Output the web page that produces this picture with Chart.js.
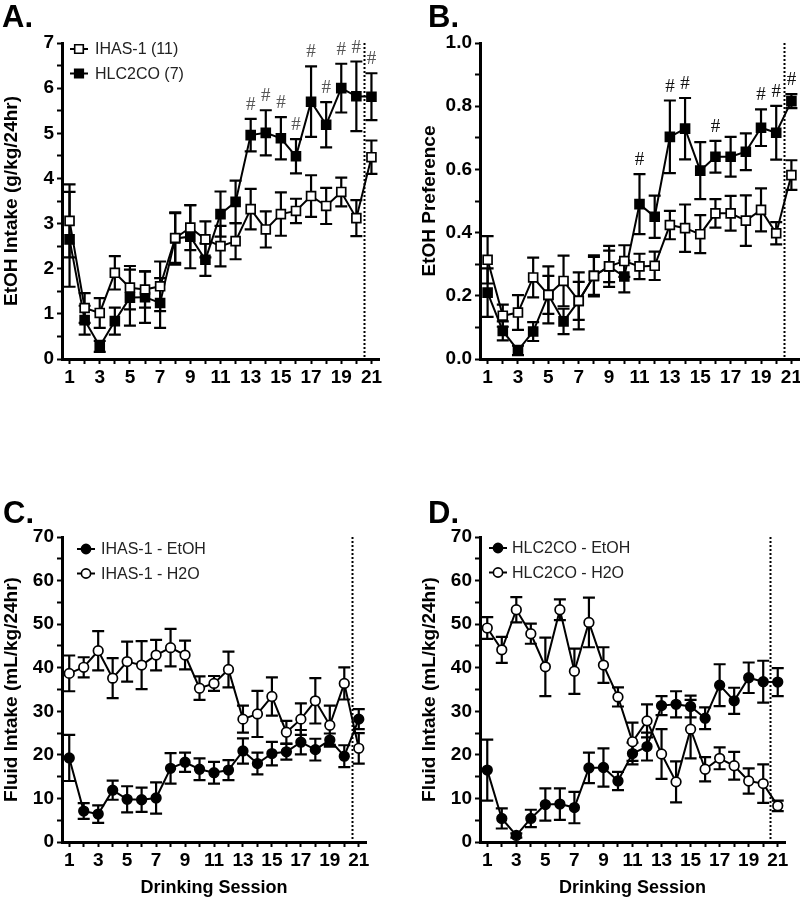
<!DOCTYPE html>
<html>
<head>
<meta charset="utf-8">
<script src="https://cdn.jsdelivr.net/npm/chart.js@4.4.0/dist/chart.umd.min.js"></script>
<style>
  html, body { margin: 0; padding: 0; background: #fff; width: 800px; height: 899px; overflow: hidden; }
  canvas { position: absolute; }
</style>
</head>
<body>
<canvas id="panelA" width="400" height="400" style="left:0;top:0"></canvas>
<canvas id="panelB" width="392" height="400" style="left:418px;top:0"></canvas>
<canvas id="panelC" width="400" height="479" style="left:0;top:420px"></canvas>
<canvas id="panelD" width="382" height="479" style="left:418px;top:420px"></canvas>
<script>
// --- Data (mean and SEM per drinking session) ---
const sessions = [1, 2, 3, 4, 5, 6, 7, 8, 9, 10, 11, 12, 13, 14, 15, 16, 17, 18, 19, 20, 21];

// A. EtOH intake (g/kg/24hr)
const ihasIntake    = [3.06, 1.13, 1.02, 1.91, 1.58, 1.54, 1.61, 2.68, 2.91, 2.65, 2.50, 2.61, 3.32, 2.87, 3.21, 3.28, 3.61, 3.39, 3.70, 3.12, 4.47];
const ihasIntakeSem = [0.81, 0.33, 0.33, 0.37, 0.48, 0.40, 0.55, 0.55, 0.50, 0.40, 0.45, 0.40, 0.45, 0.40, 0.48, 0.27, 0.46, 0.40, 0.32, 0.40, 0.37];
const hlcIntake     = [2.65, 0.86, 0.28, 0.84, 1.36, 1.37, 1.24, 2.67, 2.71, 2.20, 3.21, 3.48, 4.96, 5.01, 4.89, 4.49, 5.70, 5.19, 6.00, 5.82, 5.81];
const hlcIntakeSem  = [1.05, 0.32, 0.12, 0.30, 0.62, 0.57, 0.55, 0.58, 0.70, 0.36, 0.50, 0.47, 0.36, 0.50, 0.47, 0.38, 0.78, 0.50, 0.54, 0.77, 0.52];
const sigA = [13, 14, 15, 16, 17, 18, 19, 20, 21];

// B. EtOH preference
const ihasPref    = [0.314, 0.137, 0.147, 0.258, 0.203, 0.247, 0.184, 0.263, 0.293, 0.310, 0.293, 0.295, 0.424, 0.414, 0.395, 0.461, 0.461, 0.438, 0.472, 0.398, 0.582];
const ihasPrefSem = [0.075, 0.035, 0.055, 0.063, 0.060, 0.080, 0.060, 0.060, 0.050, 0.050, 0.040, 0.045, 0.045, 0.075, 0.060, 0.045, 0.055, 0.080, 0.068, 0.035, 0.047];
const hlcPref     = [0.210, 0.089, 0.027, 0.087, 0.203, 0.119, 0.184, 0.263, 0.293, 0.261, 0.490, 0.450, 0.703, 0.729, 0.596, 0.640, 0.640, 0.656, 0.732, 0.716, 0.816];
const hlcPrefSem  = [0.077, 0.030, 0.015, 0.030, 0.090, 0.040, 0.090, 0.065, 0.065, 0.050, 0.095, 0.067, 0.115, 0.097, 0.090, 0.050, 0.063, 0.058, 0.058, 0.085, 0.022];
const sigB = [11, 13, 14, 16, 19, 20, 21];

// C. IHAS-1 fluid intake (mL/kg/24hr)
const ihasEtoh    = [19.3, 7.1, 6.4, 11.9, 9.8, 9.7, 10.1, 16.9, 18.3, 16.7, 15.9, 16.5, 20.9, 18.0, 20.3, 20.7, 22.9, 21.2, 23.4, 19.7, 28.2];
const ihasEtohSem = [5.3, 1.8, 2.0, 2.2, 3.0, 2.8, 3.6, 3.5, 2.2, 2.5, 2.5, 2.3, 2.9, 2.5, 2.7, 1.8, 2.8, 2.5, 1.5, 2.5, 2.3];
const ihasH2o     = [38.7, 40.1, 43.9, 37.6, 41.4, 40.6, 42.9, 44.6, 42.9, 35.3, 36.4, 39.6, 28.2, 29.4, 33.4, 25.2, 28.2, 32.4, 26.8, 36.4, 21.5];
const ihasH2oSem  = [4.1, 2.3, 4.5, 4.6, 4.6, 5.5, 3.5, 4.3, 3.3, 2.7, 1.7, 4.1, 3.1, 5.3, 4.4, 2.6, 3.6, 5.2, 4.5, 3.7, 3.5];

// D. HLC2CO fluid intake (mL/kg/24hr)
const hlcEtoh    = [16.5, 5.4, 1.5, 5.4, 8.6, 8.7, 7.9, 17.0, 17.1, 14.0, 20.3, 21.9, 31.3, 31.6, 31.1, 28.4, 36.0, 32.4, 37.7, 36.8, 36.7];
const hlcEtohSem = [7.0, 2.3, 0.5, 2.0, 3.7, 3.6, 3.6, 3.5, 4.4, 2.1, 2.5, 3.2, 2.2, 3.0, 2.5, 2.5, 4.8, 3.0, 3.5, 4.8, 3.2];
const hlcH2o     = [49.1, 44.1, 53.3, 47.8, 40.2, 53.3, 39.2, 50.4, 40.6, 33.3, 23.0, 27.8, 20.2, 13.8, 25.9, 16.7, 19.2, 17.5, 14.0, 13.4, 8.3];
const hlcH2oSem  = [2.5, 3.0, 2.9, 2.3, 6.7, 2.4, 5.2, 5.7, 4.1, 2.2, 4.4, 3.8, 5.7, 4.7, 6.7, 2.8, 2.5, 3.2, 2.9, 4.4, 1.2];

const breakAt = 20.5; // dotted line before session 21

const SANS = '"Liberation Sans", Arial, sans-serif';
const tickFont = { family: SANS, size: 19, weight: 'bold' };

function drawMarker(ctx, shape, filled, x, y) {
  ctx.save();
  ctx.lineWidth = 1.6;
  ctx.strokeStyle = '#000';
  ctx.fillStyle = filled ? '#000' : '#fff';
  ctx.beginPath();
  if (shape === 'rect') ctx.rect(x - 4.3, y - 4.3, 8.6, 8.6);
  else ctx.arc(x, y, 4.6, 0, Math.PI * 2);
  ctx.fill(); ctx.stroke();
  ctx.restore();
}

function makePanel(id, cfg) {
  const datasets = cfg.series.map(s => ({
    label: s.label,
    data: sessions.map((x, i) => ({ x, y: s.mean[i] })),
    sem: s.sem,
    shape: s.shape, filled: s.filled,
    borderColor: '#000', borderWidth: 2, tension: 0, fill: false,
    pointStyle: s.shape,
    pointRadius: s.shape === 'rect' ? 6.3 : 4.8,
    pointBorderWidth: 1.7,
    pointBorderColor: '#000',
    pointBackgroundColor: s.filled ? '#000' : '#fff'
  }));

  const deco = {
    id: 'deco',
    beforeDatasetsDraw(chart) {
      const { ctx, chartArea: a, scales: { x, y } } = chart;
      ctx.save();
      // dotted divider
      const dx = Math.round(x.getPixelForValue(breakAt)) + 0.5;
      ctx.strokeStyle = '#000'; ctx.lineWidth = 2; ctx.setLineDash([2, 2]);
      ctx.beginPath(); ctx.moveTo(dx, a.top); ctx.lineTo(dx, a.bottom); ctx.stroke();
      ctx.setLineDash([]);
      // error bars (mean ± SEM)
      ctx.strokeStyle = '#000'; ctx.lineWidth = 2.2;
      chart.data.datasets.forEach(ds => {
        ds.data.forEach((p, i) => {
          const px = x.getPixelForValue(p.x);
          const t = y.getPixelForValue(p.y + ds.sem[i]);
          const b = y.getPixelForValue(p.y - ds.sem[i]);
          ctx.beginPath();
          ctx.moveTo(px, t); ctx.lineTo(px, b);
          ctx.moveTo(px - 6, t); ctx.lineTo(px + 6, t);
          ctx.moveTo(px - 6, b); ctx.lineTo(px + 6, b);
          ctx.stroke();
        });
      });
      ctx.restore();
    },
    afterDraw(chart) {
      const { ctx, chartArea: a, scales: { x, y } } = chart;
      ctx.save();
      // significance marks
      if (cfg.sig) {
        const ds = chart.data.datasets[cfg.sigSeries];
        ctx.font = '19px "Liberation Serif", "Times New Roman", serif';
        ctx.fillStyle = cfg.sigColor;
        ctx.textAlign = 'center'; ctx.textBaseline = 'alphabetic';
        cfg.sig.forEach(s => {
          const i = sessions.indexOf(s);
          const px = x.getPixelForValue(s);
          const py = y.getPixelForValue(ds.data[i].y + ds.sem[i]) - 9;
          ctx.fillText('#', px, py);
        });
      }
      // legend
      if (cfg.legend) {
        ctx.font = '16px ' + SANS;
        ctx.textAlign = 'left'; ctx.textBaseline = 'middle';
        cfg.legend.order.forEach((di, k) => {
          const ds = chart.data.datasets[di];
          const lx = a.left + cfg.legend.dx;
          const ly = a.top + cfg.legend.dy + k * 24.5;
          ctx.strokeStyle = '#000'; ctx.lineWidth = 2;
          ctx.beginPath(); ctx.moveTo(lx - 9, ly); ctx.lineTo(lx + 9, ly); ctx.stroke();
          drawMarker(ctx, ds.shape, ds.filled, lx, ly);
          ctx.fillStyle = '#222';
          ctx.fillText(ds.label, lx + cfg.legend.tx, ly + 1);
        });
      }
      // panel letter
      ctx.font = 'bold 31px ' + SANS;
      ctx.fillStyle = '#000'; ctx.textAlign = 'left'; ctx.textBaseline = 'alphabetic';
      ctx.fillText(cfg.letter, cfg.letterX, cfg.letterY);
      ctx.restore();
    }
  };

  return new Chart(document.getElementById(id), {
    type: 'line',
    data: { datasets },
    options: {
      responsive: false,
      animation: false,
      events: [],
      layout: { padding: { top: cfg.padTop, right: cfg.padRight, left: 0, bottom: 0 } },
      plugins: { legend: { display: false }, tooltip: { enabled: false } },
      scales: {
        x: {
          type: 'linear', min: 0.5, max: 21.5,
          afterBuildTicks: s => { s.ticks = sessions.map(v => ({ value: v })); },
          afterFit: s => { s.height = cfg.xHeight; },
          ticks: { autoSkip: false, maxRotation: 0, padding: 2, color: '#000', font: tickFont,
                   callback: v => (v % 2 ? v : '') },
          grid: { drawOnChartArea: false, tickLength: 5, tickWidth: 2, color: '#000' },
          border: { width: 3, color: '#000' },
          title: { display: !!cfg.xTitle, text: cfg.xTitle || '', color: '#000',
                   font: { family: SANS, size: 18, weight: 'bold' }, padding: { top: 0, bottom: 0 } }
        },
        y: {
          min: cfg.yMin, max: cfg.yMax,
          afterFit: s => { s.width = 62; },
          ticks: { stepSize: cfg.yStep, autoSkip: false, padding: 3, color: '#000', font: tickFont,
                   callback: cfg.yLabel },
          grid: { drawOnChartArea: false, tickLength: 5, tickWidth: 2, color: '#000' },
          border: { width: 3, color: '#000' },
          title: { display: true, text: cfg.yTitle, color: '#000',
                   font: { family: SANS, size: 19, weight: 'bold' }, padding: { top: 0, bottom: 0 } }
        }
      }
    },
    plugins: [deco]
  });
}

const intLabel = v => (Math.abs(v - Math.round(v)) < 1e-6 ? Math.round(v) : '');
const prefLabel = v => (Math.round(v * 10) % 2 === 0 ? v.toFixed(1) : '');
const tenLabel = v => (Math.round(v) % 10 === 0 ? Math.round(v) : '');

makePanel('panelA', {
  letter: 'A.', letterX: 2, letterY: 27,
  padTop: 43, padRight: 21, xHeight: 41,
  yMin: 0, yMax: 7, yStep: 0.5, yLabel: intLabel, yTitle: 'EtOH Intake (g/kg/24hr)',
  series: [
    { label: 'IHAS-1 (11)', mean: ihasIntake, sem: ihasIntakeSem, shape: 'rect', filled: false },
    { label: 'HLC2CO (7)', mean: hlcIntake, sem: hlcIntakeSem, shape: 'rect', filled: true }
  ],
  sig: sigA, sigSeries: 1, sigColor: '#555',
  legend: { order: [0, 1], dx: 17, dy: 6, tx: 16 }
});

makePanel('panelB', {
  letter: 'B.', letterX: 10, letterY: 27,
  padTop: 43, padRight: 11, xHeight: 41,
  yMin: 0, yMax: 1, yStep: 0.1, yLabel: prefLabel, yTitle: 'EtOH Preference',
  series: [
    { label: 'IHAS-1 (11)', mean: ihasPref, sem: ihasPrefSem, shape: 'rect', filled: false },
    { label: 'HLC2CO (7)', mean: hlcPref, sem: hlcPrefSem, shape: 'rect', filled: true }
  ],
  sig: sigB, sigSeries: 1, sigColor: '#111'
});

makePanel('panelC', {
  letter: 'C.', letterX: 3, letterY: 103,
  padTop: 117, padRight: 34, xHeight: 57, xTitle: 'Drinking Session',
  yMin: 0, yMax: 70, yStep: 5, yLabel: tenLabel, yTitle: 'Fluid Intake (mL/kg/24hr)',
  series: [
    { label: 'IHAS-1 - EtOH', mean: ihasEtoh, sem: ihasEtohSem, shape: 'circle', filled: true },
    { label: 'IHAS-1 - H2O', mean: ihasH2o, sem: ihasH2oSem, shape: 'circle', filled: false }
  ],
  legend: { order: [0, 1], dx: 24, dy: 12, tx: 15 }
});

makePanel('panelD', {
  letter: 'D.', letterX: 10, letterY: 103,
  padTop: 117, padRight: 15, xHeight: 57, xTitle: 'Drinking Session',
  yMin: 0, yMax: 70, yStep: 5, yLabel: tenLabel, yTitle: 'Fluid Intake (mL/kg/24hr)',
  series: [
    { label: 'HLC2CO - EtOH', mean: hlcEtoh, sem: hlcEtohSem, shape: 'circle', filled: true },
    { label: 'HLC2CO - H2O', mean: hlcH2o, sem: hlcH2oSem, shape: 'circle', filled: false }
  ],
  legend: { order: [0, 1], dx: 18, dy: 11, tx: 14 }
});
</script>
</body>
</html>
